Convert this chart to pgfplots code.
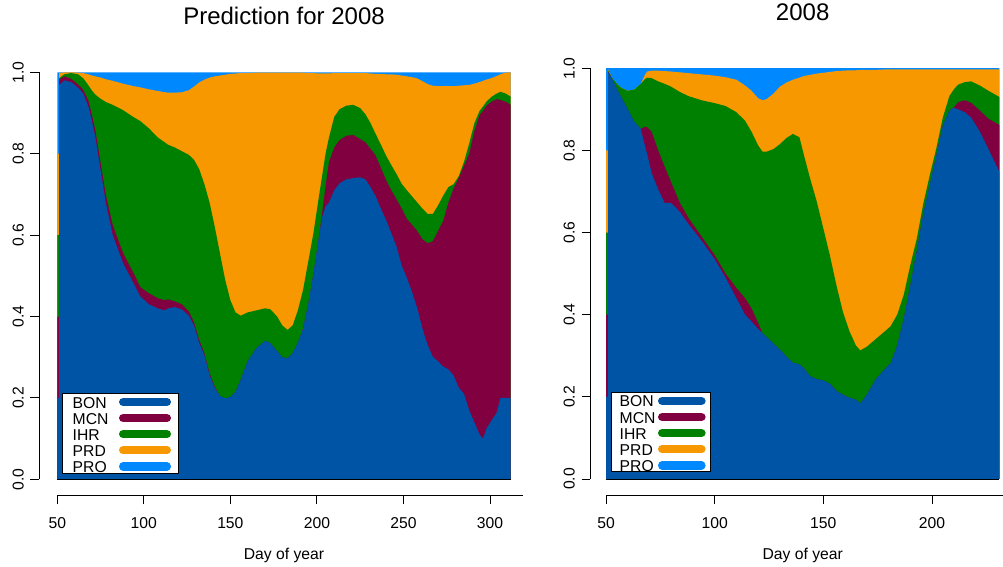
\documentclass[border=0pt]{standalone}
\usepackage{pgfplots}
\pgfplotsset{compat=1.18}
\usepackage{pgfplotstable}
\usepackage{graphicx}
\usepackage{fontspec}
\setmainfont{Liberation Sans}

\definecolor{bon}{RGB}{0,84,166}
\definecolor{mcn}{RGB}{128,0,64}
\definecolor{ihr}{RGB}{0,128,0}
\definecolor{prd}{RGB}{247,152,0}
\definecolor{pro}{RGB}{0,136,255}

\newcommand{\ticksize}{\fontsize{15.7bp}{18bp}\selectfont}
\newcommand{\titlesize}{\fontsize{24bp}{28bp}\selectfont}

% Cumulative proportions by site (upper edge of each band), day of year
\pgfplotstableread{
d    bon   mcn   ihr   prd   pro
50   0.2   0.4   0.6   0.8   1
51   0.2   0.4   0.6   0.8   1
51   0.968 0.982 0.985 0.998 1
54   0.980 0.990 0.995 1.000 1
58   0.976 0.984 0.998 1.000 1
62   0.962 0.970 0.995 0.999 1
65   0.948 0.957 0.985 0.998 1
68   0.915 0.930 0.968 0.995 1
70   0.880 0.895 0.955 0.992 1
72   0.840 0.858 0.945 0.990 1
75   0.760 0.778 0.935 0.987 1
78   0.680 0.700 0.927 0.983 1
82   0.600 0.625 0.920 0.979 1
88   0.531 0.556 0.907 0.972 1
94   0.482 0.507 0.890 0.966 1
98   0.449 0.472 0.880 0.963 1
103  0.430 0.457 0.862 0.958 1
108  0.420 0.445 0.840 0.954 1
112  0.415 0.440 0.828 0.951 1
114  0.420 0.442 0.822 0.950 1
118  0.423 0.437 0.815 0.950 1
122  0.417 0.430 0.806 0.951 1
126  0.402 0.412 0.797 0.956 1
129  0.378 0.386 0.785 0.965 1
132  0.335 0.342 0.762 0.975 1
135  0.305 0.310 0.725 0.982 1
138  0.255 0.260 0.680 0.987 1
141  0.225 0.228 0.620 0.990 1
144  0.205 0.205 0.555 0.992 1
147  0.199 0.199 0.490 0.994 1
150  0.202 0.202 0.440 0.996 1
153  0.215 0.215 0.410 0.997 1
156  0.245 0.245 0.402 0.998 1
160  0.290 0.290 0.410 0.998 1
165  0.322 0.322 0.415 0.999 1
170  0.340 0.340 0.420 0.999 1
173  0.335 0.335 0.418 0.999 1
177  0.315 0.315 0.400 0.999 1
180  0.300 0.300 0.378 0.999 1
183  0.297 0.297 0.367 0.999 1
186  0.310 0.310 0.378 0.999 1
189  0.335 0.335 0.415 0.999 1
192  0.370 0.370 0.465 0.999 1
195  0.430 0.430 0.535 0.998 1
198  0.505 0.505 0.605 0.998 1
201  0.590 0.590 0.690 0.997 1
203  0.645 0.655 0.745 0.997 1
205  0.670 0.720 0.800 0.997 1
207  0.680 0.780 0.840 0.997 1
210  0.710 0.815 0.890 0.998 1
213  0.727 0.833 0.909 0.998 1
217  0.737 0.844 0.918 0.998 1
221  0.740 0.846 0.920 0.998 1
225  0.742 0.836 0.912 0.998 1
228  0.737 0.828 0.897 0.998 1
231  0.718 0.812 0.875 0.997 1
234  0.695 0.795 0.848 0.996 1
237  0.665 0.765 0.822 0.996 1
240  0.637 0.735 0.795 0.995 1
243  0.605 0.710 0.772 0.995 1
246  0.572 0.688 0.750 0.994 1
249  0.525 0.665 0.726 0.992 1
252  0.495 0.640 0.710 0.990 1
255  0.460 0.625 0.695 0.988 1
258  0.420 0.610 0.680 0.985 1
261  0.370 0.590 0.665 0.978 1
264  0.330 0.580 0.652 0.971 1
267  0.301 0.585 0.652 0.967 1
270  0.290 0.610 0.673 0.966 1
273  0.277 0.635 0.697 0.966 1
276  0.270 0.680 0.718 0.966 1
279  0.255 0.715 0.725 0.966 1
282  0.225 0.740 0.745 0.967 1
285  0.210 0.770 0.780 0.968 1
288  0.170 0.800 0.825 0.969 1
291  0.140 0.855 0.875 0.972 1
294  0.110 0.895 0.905 0.976 1
296  0.100 0.905 0.916 0.979 1
298  0.125 0.918 0.928 0.982 1
301  0.145 0.928 0.940 0.986 1
304  0.165 0.934 0.948 0.991 1
306  0.200 0.932 0.952 0.995 1
309  0.200 0.928 0.948 0.999 1
312  0.200 0.920 0.940 1.000 1
}\predtable

\pgfplotstableread{
d    bon   mcn   ihr   prd   pro
50   0.2   0.4   0.6   0.8   1
51   0.2   0.4   0.6   0.8   1
51   0.990 0.992 0.994 0.996 1
53   0.972 0.972 0.975 0.975 1
55   0.950 0.950 0.962 0.962 1
57   0.930 0.930 0.952 0.952 1
60   0.900 0.900 0.945 0.945 1
63   0.870 0.870 0.948 0.948 1
66   0.852 0.852 0.962 0.962 1
68   0.810 0.858 0.974 0.985 1
69   0.790 0.856 0.977 0.992 1
71   0.745 0.845 0.976 0.994 1
74   0.705 0.800 0.968 0.994 1
77   0.672 0.760 0.962 0.993 1
80   0.672 0.722 0.955 0.992 1
84   0.650 0.672 0.942 0.990 1
88   0.620 0.635 0.932 0.988 1
94   0.580 0.590 0.922 0.985 1
100  0.535 0.545 0.915 0.982 1
105  0.490 0.500 0.908 0.978 1
110  0.440 0.465 0.893 0.972 1
114  0.400 0.440 0.872 0.958 1
117  0.383 0.415 0.845 0.945 1
120  0.365 0.380 0.812 0.927 1
122  0.355 0.355 0.797 0.922 1
124  0.345 0.345 0.797 0.925 1
127  0.330 0.330 0.803 0.938 1
130  0.315 0.315 0.815 0.955 1
133  0.298 0.298 0.830 0.965 1
136  0.283 0.283 0.840 0.972 1
139  0.279 0.279 0.832 0.977 1
141  0.270 0.270 0.790 0.981 1
144  0.250 0.250 0.730 0.984 1
147  0.243 0.243 0.675 0.987 1
150  0.240 0.240 0.610 0.989 1
153  0.232 0.232 0.545 0.991 1
156  0.215 0.215 0.472 0.993 1
159  0.205 0.205 0.407 0.994 1
162  0.198 0.198 0.360 0.995 1
165  0.193 0.193 0.325 0.995 1
167  0.184 0.184 0.313 0.996 1
170  0.205 0.205 0.322 0.996 1
174  0.242 0.242 0.340 0.996 1
178  0.266 0.266 0.358 0.997 1
181  0.282 0.282 0.372 0.997 1
184  0.325 0.325 0.400 0.997 1
187  0.390 0.390 0.448 0.997 1
190  0.470 0.470 0.520 0.997 1
193  0.555 0.555 0.585 0.997 1
196  0.645 0.645 0.670 0.997 1
199  0.716 0.716 0.740 0.997 1
202  0.787 0.787 0.805 0.997 1
205  0.860 0.860 0.880 0.997 1
208  0.897 0.897 0.932 0.997 1
210  0.904 0.904 0.948 0.997 1
212  0.900 0.917 0.960 0.997 1
215  0.893 0.922 0.966 0.997 1
218  0.880 0.916 0.968 0.997 1
222  0.846 0.897 0.958 0.997 1
226  0.803 0.877 0.945 0.997 1
231  0.748 0.862 0.930 0.997 1
}\obstable

\pgfplotsset{
  rpanel/.style={
    scale only axis, clip=false,
    axis lines*=left, axis line style={draw=none},
    ymin=-0.04, ymax=1.04,
    ytick={0,0.2,0.4,0.6,0.8,1},
    tick align=outside, major tick length=8.7bp,
    tick style={black, line width=0.9bp},
    /pgf/number format/assume math mode=true,
    tick label style={font=\ticksize},
    xticklabel style={anchor=base, inner sep=0pt, yshift=-24bp},
    yticklabel={\rotatebox{90}{\pgfmathprintnumber[fixed,fixed zerofill,precision=1]{\tick}}},
    yticklabel style={anchor=east, inner sep=0pt, xshift=-6.5bp},
    xlabel={Day of year},
    xlabel style={at={(axis description cs:0.5,0)}, anchor=base, inner sep=0pt, yshift=-64bp, font=\ticksize},
    title style={at={(axis description cs:0.5,1)}, anchor=base, inner sep=0pt, yshift=25.4bp, font=\titlesize},
    legend cell align=left,
    legend plot pos=right,
    legend style={draw=black, line width=0.8bp, fill=white, inner ysep=0pt,
      row sep=1.1bp, column sep=0pt, font=\ticksize,
      nodes={inner sep=0pt, text height=14.5bp, text depth=0.5bp}},
  },
  % legend key: thick rounded bar to the right of the site name
  legL/.style={legend image code/.code={
      \path[draw=none, fill=none, use as bounding box] (0bp,-7.5bp) rectangle (59.7bp,7.5bp);
      \draw[fill=none, line width=8.3bp, line cap=round, color=#1] (14.7bp,-1bp) -- (58.4bp,-1bp);}},
  legR/.style={legend image code/.code={
      \path[draw=none, fill=none, use as bounding box] (0bp,-7.5bp) rectangle (46.4bp,7.5bp);
      \draw[fill=none, line width=8.3bp, line cap=round, color=#1] (6.7bp,-1bp) -- (46bp,-1bp);}},
  band/.style={fill=#1, draw=none, forget plot},
}

\begin{document}
\begin{tikzpicture}
\useasboundingbox (0,0) rectangle (1003bp,567bp);

\begin{axis}[rpanel,
  at={(39.16bp,71.4bp)}, anchor=south west,
  width=489.7bp, height=439.6bp,
  xmin=39.52, xmax=322.48,
  xtick={50,100,150,200,250,300},
  title={Prediction for 2008},
  legend style={at={(axis cs:52.9,0.0147)}, anchor=south west, inner xsep=10bp},
]
\addplot[band=pro] table[x=d, y=pro] {\predtable} \closedcycle;
\addplot[band=prd] table[x=d, y=prd] {\predtable} \closedcycle;
\addplot[band=ihr] table[x=d, y=ihr] {\predtable} \closedcycle;
\addplot[band=mcn] table[x=d, y=mcn] {\predtable} \closedcycle;
\addplot[band=bon] table[x=d, y=bon] {\predtable} \closedcycle;
\draw[black, line width=0.7bp] (axis cs:50,0) -- (axis cs:312,0);
\draw[black, line width=0.9bp] (axis cs:50,-0.04) -- (axis cs:319.3,-0.04);
\draw[black, line width=0.9bp] (axis cs:39.52,0) -- (axis cs:39.52,1);
\addlegendimage{legL=bon}\addlegendentry{BON}
\addlegendimage{legL=mcn}\addlegendentry{MCN}
\addlegendimage{legL=ihr}\addlegendentry{IHR}
\addlegendimage{legL=prd}\addlegendentry{PRD}
\addlegendimage{legL=pro}\addlegendentry{PRO}
\end{axis}

\begin{axis}[rpanel,
  at={(590.27bp,71.6bp)}, anchor=south west,
  width=424.8bp, height=443.6bp,
  xmin=42.76, xmax=238.24,
  xtick={50,100,150,200},
  title={2008},
  legend style={at={(axis cs:52.16,0.0163)}, anchor=south west, inner xsep=8.6bp},
]
\addplot[band=pro] table[x=d, y=pro] {\obstable} \closedcycle;
\addplot[band=prd] table[x=d, y=prd] {\obstable} \closedcycle;
\addplot[band=ihr] table[x=d, y=ihr] {\obstable} \closedcycle;
\addplot[band=mcn] table[x=d, y=mcn] {\obstable} \closedcycle;
\addplot[band=bon] table[x=d, y=bon] {\obstable} \closedcycle;
\draw[black, line width=0.7bp] (axis cs:50,0) -- (axis cs:231,0);
\draw[black, line width=0.9bp] (axis cs:50,-0.04) -- (axis cs:232.7,-0.04);
\draw[black, line width=0.9bp] (axis cs:42.76,0) -- (axis cs:42.76,1);
\addlegendimage{legR=bon}\addlegendentry{BON}
\addlegendimage{legR=mcn}\addlegendentry{MCN}
\addlegendimage{legR=ihr}\addlegendentry{IHR}
\addlegendimage{legR=prd}\addlegendentry{PRD}
\addlegendimage{legR=pro}\addlegendentry{PRO}
\end{axis}
\end{tikzpicture}
\end{document}
